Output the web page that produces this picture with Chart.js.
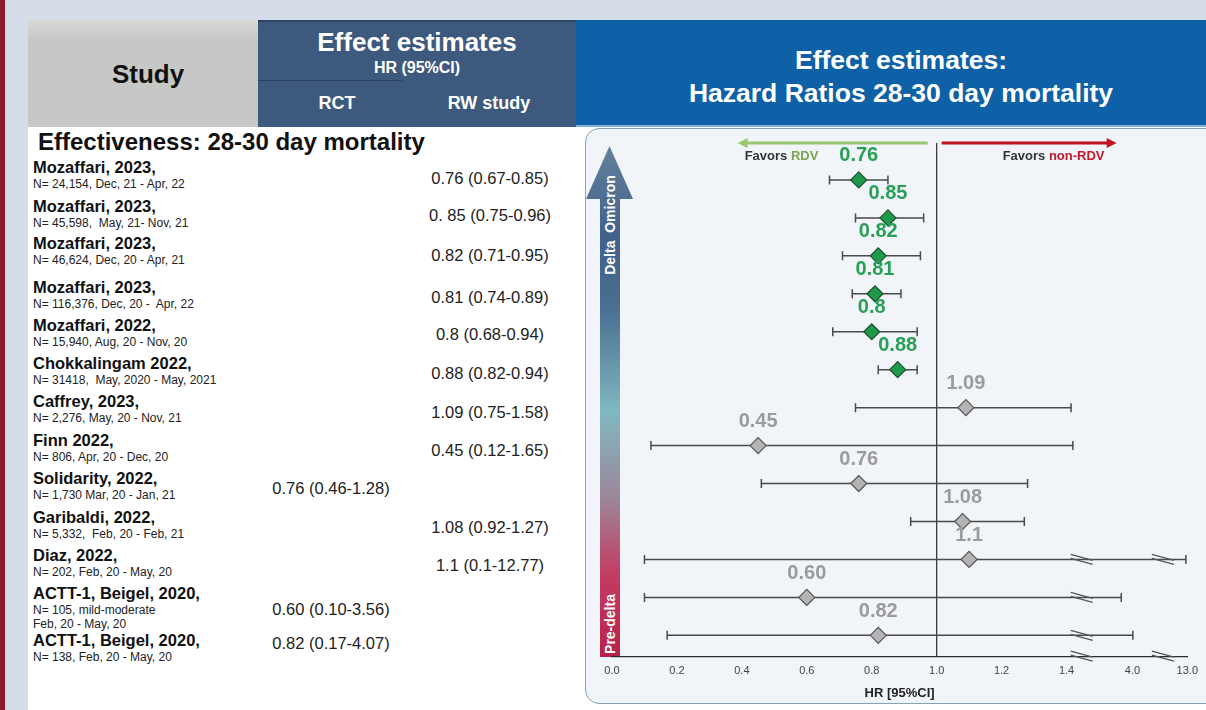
<!DOCTYPE html>
<html>
<head>
<meta charset="utf-8">
<script src="https://cdn.jsdelivr.net/npm/chart.js@4.4.0/dist/chart.umd.min.js"></script>
<style>
  body { margin: 0; width: 1206px; height: 710px; position: relative; overflow: hidden;
         background: #d5dee8; font-family: "Liberation Sans", Arial, sans-serif; }
  .abs { position: absolute; }
  .hdr { color: #fff; font-weight: bold; text-align: center; }
  .title { font-weight: bold; font-size: 16.5px; line-height: 20px; color: #111; white-space: pre; }
  .detail { font-size: 12px; line-height: 14px; color: #222; white-space: pre; }
  .val { font-size: 16.5px; color: #222; white-space: pre; transform: translateX(-50%); line-height: 18px; }
  .vtext { color: #fff; font-weight: bold; font-size: 14px; white-space: nowrap;
           transform: translate(-50%, -50%) rotate(-90deg); }
</style>
</head>
<body>
<div class="abs" style="left:0;top:0;width:5px;height:710px;background:#8a1a2b"></div>
<div class="abs" style="left:28px;top:127px;width:1178px;height:583px;background:#fff"></div>

<!-- header -->
<div class="abs" style="left:28px;top:20px;width:230px;height:107px;background:linear-gradient(#d8d9d6,#c6c8c5 20%,#c6c8c5)"></div>
<div class="abs" style="left:28px;top:59px;width:240px;font-size:26px;font-weight:bold;text-align:center;color:#111">Study</div>
<div class="abs" style="left:258px;top:20px;width:318px;height:107px;background:#3d5a7e;border-top:2px solid #2c4466;box-sizing:border-box"></div>
<div class="abs" style="left:258px;top:80px;width:144px;height:1px;background:#2a4262"></div>
<div class="abs hdr" style="left:258px;top:27px;width:318px;font-size:26px">Effect estimates</div>
<div class="abs hdr" style="left:258px;top:59px;width:318px;font-size:16px">HR (95%CI)</div>
<div class="abs hdr" style="left:302px;top:93px;width:70px;font-size:18px">RCT</div>
<div class="abs hdr" style="left:434px;top:93px;width:110px;font-size:18px">RW study</div>
<div class="abs" style="left:576px;top:20px;width:630px;height:107px;background:#0e61a6;border-bottom:2px solid #7fb0d8;box-sizing:border-box"></div>
<div class="abs hdr" style="left:596px;top:44px;width:610px;font-size:26.5px;line-height:33px">Effect estimates:<br>Hazard Ratios 28-30 day mortality</div>

<div class="abs" style="left:38px;top:128px;font-size:24px;font-weight:bold;color:#111">Effectiveness: 28-30 day mortality</div>
<div id="table"></div>

<!-- plot panel -->
<div class="abs" style="left:585px;top:128px;width:650px;height:576px;background:#f1f4f8;border:1.5px solid #86a3b6;border-radius:14px;box-sizing:border-box"></div>
<div class="abs" style="left:586px;top:146px;width:47px;height:511px;
  clip-path:polygon(23.5px 0,47px 53px,34px 53px,34px 511px,14px 511px,14px 53px,0 53px);
  background:linear-gradient(#64809c 0%,#41618a 18%,#4a6f92 32%,#80b8c0 52%,#9a8a9c 68%,#c33c62 84%,#b8214a 100%)"></div>
<div class="abs vtext" style="left:610px;top:225px">Delta&nbsp;&nbsp;Omicron</div>
<div class="abs vtext" style="left:610px;top:624px">Pre-delta</div>

<canvas id="c" class="abs" width="1206" height="710" style="left:0;top:0;width:1206px;height:710px"></canvas>

<script>
// ---- data ----
const studyNames = ['Mozaffari, 2023,', 'Mozaffari, 2023,', 'Mozaffari, 2023,', 'Mozaffari, 2023,',
  'Mozaffari, 2022,', 'Chokkalingam 2022,', 'Caffrey, 2023,', 'Finn 2022,', 'Solidarity, 2022,',
  'Garibaldi, 2022,', 'Diaz, 2022,', 'ACTT-1, Beigel, 2020,', 'ACTT-1, Beigel, 2020,'];
const studyDetails = ['N= 24,154, Dec, 21 - Apr, 22', 'N= 45,598,  May, 21- Nov, 21',
  'N= 46,624, Dec, 20 - Apr, 21', 'N= 116,376, Dec, 20 -  Apr, 22', 'N= 15,940, Aug, 20 - Nov, 20',
  'N= 31418,  May, 2020 - May, 2021', 'N= 2,276, May, 20 - Nov, 21', 'N= 806, Apr, 20 - Dec, 20',
  'N= 1,730 Mar, 20 - Jan, 21', 'N= 5,332,  Feb, 20 - Feb, 21', 'N= 202, Feb, 20 - May, 20',
  'N= 105, mild-moderate\nFeb, 20 - May, 20', 'N= 138, Feb, 20 - May, 20'];
const studyDesign = ['RW', 'RW', 'RW', 'RW', 'RW', 'RW', 'RW', 'RW', 'RCT', 'RW', 'RW', 'RCT', 'RCT'];
const hrText = ['0.76 (0.67-0.85)', '0. 85 (0.75-0.96)', '0.82 (0.71-0.95)', '0.81 (0.74-0.89)',
  '0.8 (0.68-0.94)', '0.88 (0.82-0.94)', '1.09 (0.75-1.58)', '0.45 (0.12-1.65)', '0.76 (0.46-1.28)',
  '1.08 (0.92-1.27)', '1.1 (0.1-12.77)', '0.60 (0.10-3.56)', '0.82 (0.17-4.07)'];
const hrLabels = ['0.76', '0.85', '0.82', '0.81', '0.8', '0.88', '1.09', '0.45', '0.76', '1.08', '1.1', '0.60', '0.82'];
const hrValues = [0.76, 0.85, 0.82, 0.81, 0.8, 0.88, 1.09, 0.45, 0.76, 1.08, 1.1, 0.60, 0.82];
const ciLow = [0.67, 0.75, 0.71, 0.74, 0.68, 0.82, 0.75, 0.12, 0.46, 0.92, 0.1, 0.10, 0.17];
const ciHigh = [0.85, 0.96, 0.95, 0.89, 0.94, 0.94, 1.58, 1.65, 1.28, 1.27, 12.77, 3.56, 4.07];
const xTicks = [0, 0.2, 0.4, 0.6, 0.8, 1.0, 1.2, 1.4, 4.0, 13.0];
const axisBreaks = [2.0, 9.0];

// ---- left table (text) ----
const titleY = [167, 206, 243, 287, 325, 363, 401, 440, 478, 517, 555, 593, 640];
const valueY = [178, 215, 255, 297, 334, 373, 412, 450, 488, 527, 565, 609, 643];
let html = '';
studyNames.forEach(function(name, i) {
  html += '<div class="abs" style="left:33px;top:' + (titleY[i] - 10) + 'px">' +
    '<div class="title">' + name + '</div><div class="detail">' + studyDetails[i] + '</div></div>';
  const cx = studyDesign[i] === 'RCT' ? 331 : 490;
  html += '<div class="abs val" style="left:' + cx + 'px;top:' + (valueY[i] - 9) + 'px">' + hrText[i] + '</div>';
});
document.getElementById('table').innerHTML = html;

// ---- broken x axis: linear to 1.4, then compressed 1.4-4 and 4-13 ----
class BrokenLinearScale extends Chart.LinearScale {
  warp(v) {
    if (v <= 1.4) return v;
    if (v <= 4) return 1.4 + (v - 1.4) / 2.6 * 0.203;
    return 1.603 + (v - 4) / 9 * 0.169;
  }
  buildTicks() {
    return xTicks.map(function(v) { return { value: v }; });
  }
  getPixelForValue(v) {
    if (v === null || isNaN(v)) return NaN;
    return this.getPixelForDecimal(this.warp(v) / this.warp(this.max));
  }
  getValueForPixel(p) {
    const w = this.getDecimalForPixel(p) * this.warp(this.max);
    if (w <= 1.4) return w;
    if (w <= 1.603) return 1.4 + (w - 1.4) / 0.203 * 2.6;
    return 4 + (w - 1.603) / 0.169 * 9;
  }
}
BrokenLinearScale.id = 'brokenLinear';
BrokenLinearScale.defaults = Chart.LinearScale.defaults;
Chart.register(BrokenLinearScale);

const GREEN = '#1f9a4c';
const rows = hrValues.map(function(v, i) { return i; });
const sig = rows.map(function(i) { return ciHigh[i] < 1; });

function arrow(ctx, x0, x1, y, color) {
  const dir = x1 > x0 ? 1 : -1;
  ctx.strokeStyle = color; ctx.fillStyle = color; ctx.lineWidth = 3;
  ctx.beginPath(); ctx.moveTo(x0, y); ctx.lineTo(x1 - dir * 8, y); ctx.stroke();
  ctx.beginPath(); ctx.moveTo(x1, y); ctx.lineTo(x1 - dir * 10, y - 5); ctx.lineTo(x1 - dir * 10, y + 5);
  ctx.closePath(); ctx.fill();
}
function twoTone(ctx, x, y, a, colA, b, colB) {
  ctx.textAlign = 'left';
  ctx.fillStyle = colA; ctx.fillText(a, x, y);
  ctx.fillStyle = colB; ctx.fillText(b, x + ctx.measureText(a).width, y);
}
function breakMark(ctx, c, y) {
  ctx.strokeStyle = '#555'; ctx.lineWidth = 1.3;
  [-2, 2].forEach(function(off) {
    ctx.beginPath(); ctx.moveTo(c - 11, y - 3 + off); ctx.lineTo(c + 11, y + 3 + off); ctx.stroke();
  });
}

const forestDecor = {
  id: 'forestDecor',
  beforeDatasetsDraw(chart) {
    const { ctx, chartArea: a, scales: { x } } = chart;
    const x1 = x.getPixelForValue(1);
    ctx.save();
    ctx.strokeStyle = '#3c3c3c'; ctx.lineWidth = 1.3;
    ctx.beginPath(); ctx.moveTo(x1, a.top + 1); ctx.lineTo(x1, a.bottom); ctx.stroke();
    arrow(ctx, x1 - 9, x1 - 199, a.top + 1, '#9cc56f');
    arrow(ctx, x1 + 5, x1 + 180, a.top + 1, '#c0121f');
    ctx.font = 'bold 13px "Liberation Sans", Arial, sans-serif';
    ctx.textBaseline = 'middle';
    twoTone(ctx, x1 - 192, a.top + 14, 'Favors ', '#333', 'RDV', '#7ba552');
    twoTone(ctx, x1 + 66, a.top + 14, 'Favors ', '#333', 'non-RDV', '#c0192a');
    ctx.restore();
  },
  afterDatasetsDraw(chart) {
    const { ctx, chartArea: a, scales: { x, y } } = chart;
    ctx.save();
    rows.forEach(function(i) {
      axisBreaks.forEach(function(b) {
        if (ciHigh[i] > b) breakMark(ctx, x.getPixelForValue(b), y.getPixelForValue(i));
      });
    });
    axisBreaks.forEach(function(b) { breakMark(ctx, x.getPixelForValue(b), a.bottom); });
    ctx.font = 'bold 20px "Liberation Sans", Arial, sans-serif';
    ctx.textAlign = 'center'; ctx.textBaseline = 'middle';
    rows.forEach(function(i) {
      ctx.fillStyle = sig[i] ? '#27a055' : '#9b9b9b';
      ctx.fillText(hrLabels[i], x.getPixelForValue(hrValues[i]), y.getPixelForValue(i) - 24);
    });
    ctx.restore();
  }
};

const whiskerSets = rows.map(function(i) {
  return {
    type: 'line', order: 3,
    data: [{ x: ciLow[i], y: i }, { x: ciHigh[i], y: i }],
    borderColor: '#4a4a4a', borderWidth: 1.5, pointRadius: 0
  };
});
const capSet = {
  type: 'scatter', order: 2,
  data: rows.map(function(i) { return { x: ciLow[i], y: i }; })
    .concat(rows.map(function(i) { return { x: ciHigh[i], y: i }; })),
  pointStyle: 'line', rotation: 90, pointRadius: 4.5,
  borderColor: '#4a4a4a', borderWidth: 1.5
};
const markerSet = {
  type: 'scatter', order: 1,
  data: rows.map(function(i) { return { x: hrValues[i], y: i }; }),
  pointStyle: 'rectRot', pointRadius: 8,
  backgroundColor: sig.map(function(s) { return s ? GREEN : '#b4b4b4'; }),
  borderColor: sig.map(function(s) { return s ? '#1d4f2c' : '#555'; }),
  borderWidth: 1.2
};

new Chart(document.getElementById('c'), {
  type: 'scatter',
  data: { datasets: [markerSet, capSet].concat(whiskerSets) },
  options: {
    responsive: false,
    animation: false,
    events: [],
    layout: { padding: { left: 612, right: 18, top: 142, bottom: 9 } },
    plugins: { legend: { display: false }, tooltip: { enabled: false } },
    scales: {
      x: {
        type: 'brokenLinear', min: 0, max: 13,
        grid: { display: false, drawTicks: false },
        border: { display: true, color: '#2a2a2a', width: 1.3 },
        ticks: {
          autoSkip: false, maxRotation: 0, padding: 8, color: '#444',
          font: { size: 11, family: '"Liberation Sans", Arial, sans-serif' },
          callback: function(v) { return Number(v).toFixed(1); }
        },
        title: {
          display: true, text: 'HR [95%CI]', color: '#222', padding: { top: 0, bottom: 0 },
          font: { size: 13, weight: 'bold', family: '"Liberation Sans", Arial, sans-serif' }
        }
      },
      y: { type: 'linear', min: -1, max: 12.55, reverse: true, display: false }
    }
  },
  plugins: [forestDecor]
});
</script>
</body>
</html>
